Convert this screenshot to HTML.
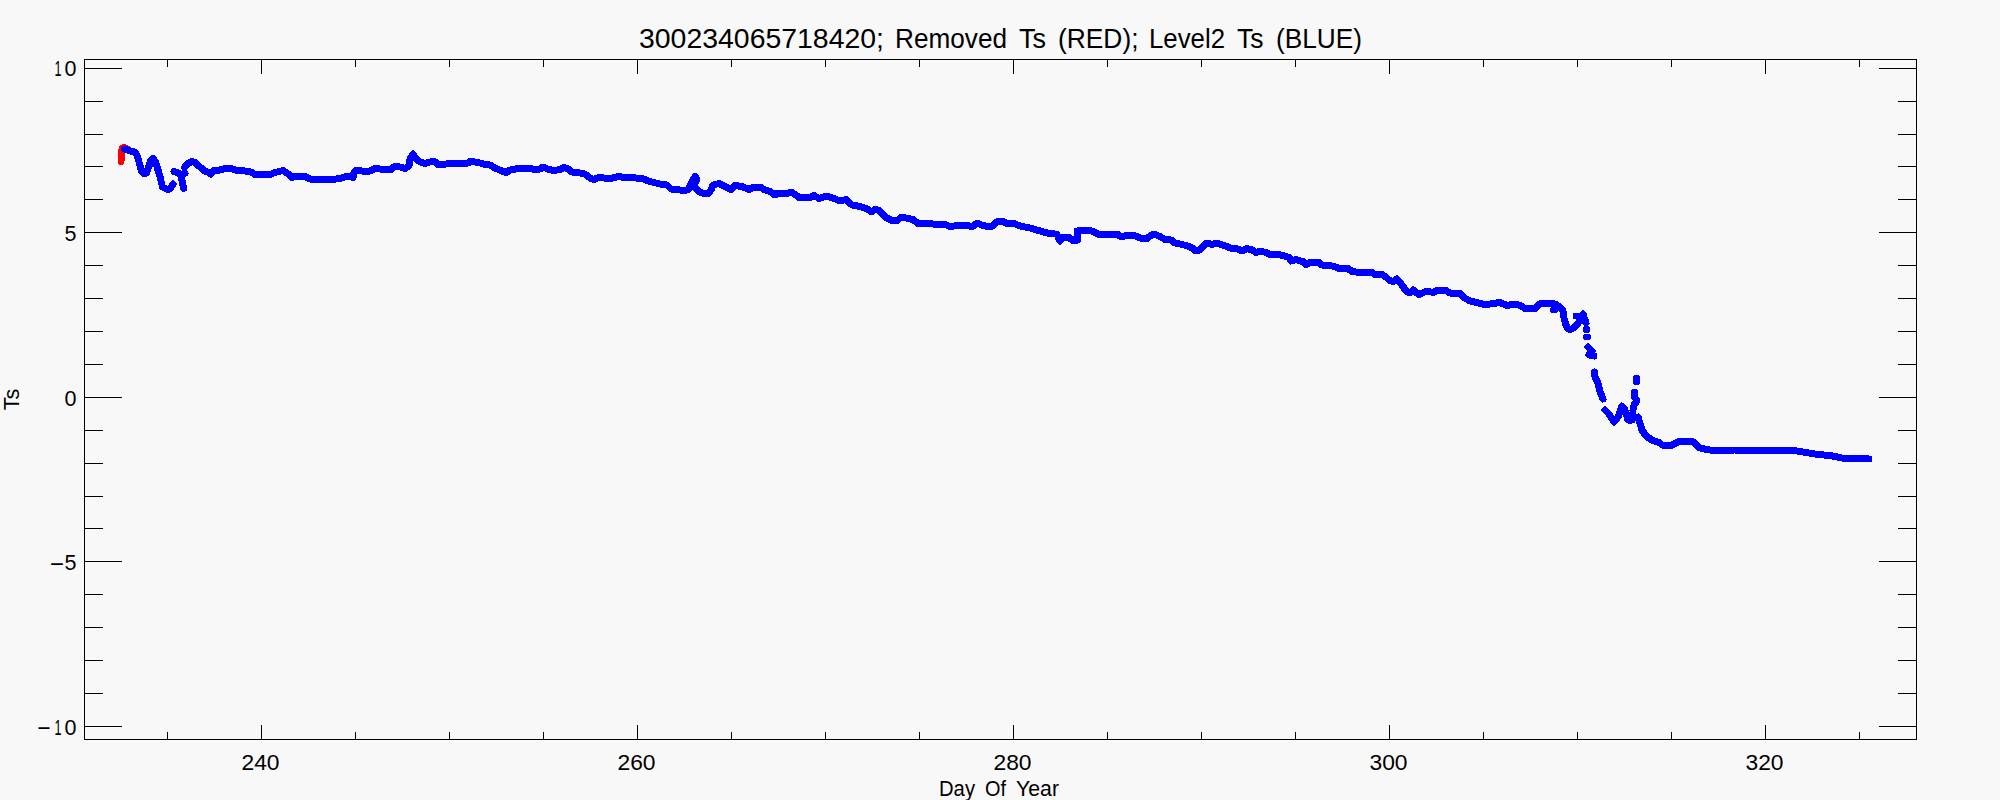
<!DOCTYPE html>
<html><head><meta charset="utf-8"><title>Ts plot</title>
<style>
html,body{margin:0;padding:0;background:#f8f8f8;}
body{width:2000px;height:800px;overflow:hidden;}
svg{display:block;}
text{font-family:"Liberation Sans",Arial,sans-serif;fill:#000;}
</style></head><body>
<svg width="2000" height="800" viewBox="0 0 2000 800">
<rect x="0" y="0" width="2000" height="800" fill="#f8f8f8"/>
<g fill="#000" shape-rendering="crispEdges"><rect x="84" y="59" width="1833" height="1"/><rect x="84" y="739" width="1833" height="1"/><rect x="84" y="59" width="1" height="681"/><rect x="1916" y="59" width="1" height="681"/><rect x="84" y="68" width="38" height="1"/><rect x="1879" y="68" width="38" height="1"/><rect x="84" y="101" width="19" height="1"/><rect x="1898" y="101" width="19" height="1"/><rect x="84" y="134" width="19" height="1"/><rect x="1898" y="134" width="19" height="1"/><rect x="84" y="166" width="19" height="1"/><rect x="1898" y="166" width="19" height="1"/><rect x="84" y="199" width="19" height="1"/><rect x="1898" y="199" width="19" height="1"/><rect x="84" y="232" width="38" height="1"/><rect x="1879" y="232" width="38" height="1"/><rect x="84" y="265" width="19" height="1"/><rect x="1898" y="265" width="19" height="1"/><rect x="84" y="298" width="19" height="1"/><rect x="1898" y="298" width="19" height="1"/><rect x="84" y="331" width="19" height="1"/><rect x="1898" y="331" width="19" height="1"/><rect x="84" y="364" width="19" height="1"/><rect x="1898" y="364" width="19" height="1"/><rect x="84" y="397" width="38" height="1"/><rect x="1879" y="397" width="38" height="1"/><rect x="84" y="430" width="19" height="1"/><rect x="1898" y="430" width="19" height="1"/><rect x="84" y="463" width="19" height="1"/><rect x="1898" y="463" width="19" height="1"/><rect x="84" y="496" width="19" height="1"/><rect x="1898" y="496" width="19" height="1"/><rect x="84" y="528" width="19" height="1"/><rect x="1898" y="528" width="19" height="1"/><rect x="84" y="561" width="38" height="1"/><rect x="1879" y="561" width="38" height="1"/><rect x="84" y="594" width="19" height="1"/><rect x="1898" y="594" width="19" height="1"/><rect x="84" y="627" width="19" height="1"/><rect x="1898" y="627" width="19" height="1"/><rect x="84" y="660" width="19" height="1"/><rect x="1898" y="660" width="19" height="1"/><rect x="84" y="693" width="19" height="1"/><rect x="1898" y="693" width="19" height="1"/><rect x="84" y="726" width="38" height="1"/><rect x="1879" y="726" width="38" height="1"/><rect x="167" y="732" width="1" height="8"/><rect x="167" y="59" width="1" height="8"/><rect x="261" y="725" width="1" height="15"/><rect x="261" y="59" width="1" height="15"/><rect x="355" y="732" width="1" height="8"/><rect x="355" y="59" width="1" height="8"/><rect x="449" y="732" width="1" height="8"/><rect x="449" y="59" width="1" height="8"/><rect x="543" y="732" width="1" height="8"/><rect x="543" y="59" width="1" height="8"/><rect x="637" y="725" width="1" height="15"/><rect x="637" y="59" width="1" height="15"/><rect x="731" y="732" width="1" height="8"/><rect x="731" y="59" width="1" height="8"/><rect x="825" y="732" width="1" height="8"/><rect x="825" y="59" width="1" height="8"/><rect x="919" y="732" width="1" height="8"/><rect x="919" y="59" width="1" height="8"/><rect x="1013" y="725" width="1" height="15"/><rect x="1013" y="59" width="1" height="15"/><rect x="1107" y="732" width="1" height="8"/><rect x="1107" y="59" width="1" height="8"/><rect x="1201" y="732" width="1" height="8"/><rect x="1201" y="59" width="1" height="8"/><rect x="1295" y="732" width="1" height="8"/><rect x="1295" y="59" width="1" height="8"/><rect x="1389" y="725" width="1" height="15"/><rect x="1389" y="59" width="1" height="15"/><rect x="1483" y="732" width="1" height="8"/><rect x="1483" y="59" width="1" height="8"/><rect x="1577" y="732" width="1" height="8"/><rect x="1577" y="59" width="1" height="8"/><rect x="1671" y="732" width="1" height="8"/><rect x="1671" y="59" width="1" height="8"/><rect x="1765" y="725" width="1" height="15"/><rect x="1765" y="59" width="1" height="15"/><rect x="1859" y="732" width="1" height="8"/><rect x="1859" y="59" width="1" height="8"/></g>
<g shape-rendering="crispEdges">
<g fill="none" stroke="#0000ff" stroke-width="7" stroke-linecap="round" stroke-linejoin="round">
<polyline points="124.5,149 130,150.8 134,151.8 137,155 138.5,160 140,166 142,172 144,174 146.5,173 149,166 151,160 153,158.5 156,163 158,170 160,176 161,181 162.5,187 166.5,189 170,189 173,184"/>
<polyline points="174,171.5 177.5,172.5 181,174.5 185,173"/>
<polyline points="181,175.5 182.3,182 183.6,188.5"/>
<polyline points="184.5,167.5 188,163.5 191.5,161.5 195,162.5 200,167 204,170.5 208,172.2 211,174 214,170 220,170 225,168.5 231,168.5 235,170 245,171 251,172 255,174.5 270,174.5 275,172.5 283,170.5 287,173 292,177.5 296,176 300,176 305,176.5 310,179 318,179 323,179.5 332,179.5 340,178.5 346,176.5 350,176 353,177.5 354,172 356,170 360,170.5 364,171.5 370,171 375,168.5 385,169.5 391,169.5 395,166 400,167 405,168.5 409,166 410,159 413,154 415,158 420,162 425,163.5 430,162 434,161 438,164.5 444,164.5 450,163 460,163.5 468,163 471,161 475,162 480,163 485,164.5 490,165 495,168 502,171 506.5,172.5 510,170 518,168.5 525,168 536,169.5 540,169 543,167 549,169.5 554,170.5 560,169.5 564,167.5 568,169 572,172 580,173 585,174 590,178 594,179.5 600,177 606,178.5 613,178 618,176.5 625,177.5 636,178 642,178.5 650,181.5 660,184 667,185 671,189 680,190 685,190.5 689,189 690,186 693,180 695,176.5 697,179 694,186 698,191 702,193 708,193.5 711,190 713,185 719,183.5 724,186 731,189.5 735,185.5 742,186.5 749,189.5 753,187.5 760,187 765,190 770,191.5 775,195 778,193 785,193.5 792,192.5 800,198 810,197.5 814,195.5 819,198.5 827,196 834,198.5 840,201 846,199.5 852,205 860,206.5 866,208.5 872,212 875,209 880,211 885,217 892,220.5 897,221 901,217 906,218 913,219.5 918,223.5 926,223 933,224 944,224 950,226.5 958,225.5 967,225 972,227 977,223 983,225.5 991,227 998,221 1002,221 1007,223.5 1014,223.5 1020,226 1030,228 1040,231 1047,233 1055,234 1057,234.5 1060,241 1063,237.5 1068,237 1074,241 1078,240 1077,231 1080,230.5 1092,231 1100,235 1106,234 1118,234.5 1121,237 1126,235.5 1136,236 1140,238 1147,238.5 1150,236 1154,234 1160,236.5 1165,239.5 1171,240 1175,243 1180,244 1188,246 1192,248 1196,251 1200,250 1205,244 1208,243 1212,244.5 1217,243 1222,245 1226,246 1230,248 1238,249 1242,251 1247,248.5 1252,250 1256,252.5 1260,251 1266,252.5 1270,254.5 1278,254.5 1285,256 1290,258 1291,261 1296,259.5 1304,262 1306,264.5 1310,262.5 1318,262 1322,265 1330,265.5 1336,267 1340,269 1348,268.5 1352,271.5 1360,272.5 1372,272.5 1376,275 1382,274.5 1386,277 1389,280 1393,281.5 1397,279 1402,285 1406,291 1410,293 1413,290 1419,294.5 1427,291 1433,292.5 1437,290.5 1440,290.5 1445,290 1450,293 1460,293 1463,297 1470,301 1477,302.5 1482,304 1490,304 1500,302.5 1507,305.5 1515,304 1520,305.5 1526,309 1535,308.5 1541,303 1547,303 1555,304 1560,307 1563,311 1564,318 1566,325 1568,329 1572,329 1576,326 1579,322 1583,314 1585,320 1586,323"/>
<polyline points="1588,347 1592,351 1589,355 1594,356"/>
<polyline points="1594.5,372 1595,377 1598,383 1599.5,390 1603,399"/>
<polyline points="1605,410 1609,414 1614,422 1618,417 1622,406 1625,410 1628,420 1632,420 1633,412"/>
<polyline points="1636.5,378 1636.5,382"/>
<polyline points="1634.5,392 1634.5,397 1637,401 1634,405 1633,410"/>
<polyline points="1638,417 1640,423 1642,430 1646,436 1652,440 1660,443 1662,445 1670,446 1679,441.5 1694,442 1699,447.5 1706,449.5 1717,451 1734,450 1770,450.5 1794,450.5 1806,452.5 1818,454.5 1830,455.5 1842,458 1854,458.5 1869,459"/>
</g>
<polyline points="1553.7,310 1554.3,310" fill="none" stroke="#0000ff" stroke-width="7" stroke-linecap="round"/>
<polyline points="1576.2,316 1576.8,316" fill="none" stroke="#0000ff" stroke-width="7" stroke-linecap="round"/>
<polyline points="1586.2,329.5 1586.8,329.5" fill="none" stroke="#0000ff" stroke-width="7" stroke-linecap="round"/>
<polyline points="1586.7,337 1587.3,337" fill="none" stroke="#0000ff" stroke-width="7" stroke-linecap="round"/>
<polyline points="121,161.5 121.3,156 121.6,150.5 122.5,147.8 124.5,147.5 127.5,149" fill="none" stroke="#ff0000" stroke-width="7" stroke-linecap="round" stroke-linejoin="round"/>
<polyline points="124.5,149 130,150.8 134,151.8" fill="none" stroke="#0000ff" stroke-width="7" stroke-linecap="round" stroke-linejoin="round"/>
</g>
<text y="76.0" font-size="21.5"><tspan x="54.5" textLength="7" lengthAdjust="spacingAndGlyphs">1</tspan><tspan x="64.5">0</tspan></text>
<text y="241.0" font-size="21.5" x="64.5">5</text>
<text y="406.0" font-size="21.5" x="64.5">0</text>
<text y="570.0" font-size="21.5"><tspan x="49" textLength="16" lengthAdjust="spacingAndGlyphs">-</tspan><tspan x="64.5">5</tspan></text>
<text y="735.0" font-size="21.5"><tspan x="36.5" dy="-1" textLength="15" lengthAdjust="spacingAndGlyphs">-</tspan><tspan x="54.5" dy="1" textLength="7" lengthAdjust="spacingAndGlyphs">1</tspan><tspan x="64.5">0</tspan></text>
<g font-size="21.5" text-anchor="middle">
<text x="260.5" y="769.5" textLength="38" lengthAdjust="spacingAndGlyphs">240</text>
<text x="636.5" y="769.5" textLength="38" lengthAdjust="spacingAndGlyphs">260</text>
<text x="1012.5" y="769.5" textLength="38" lengthAdjust="spacingAndGlyphs">280</text>
<text x="1388.5" y="769.5" textLength="38" lengthAdjust="spacingAndGlyphs">300</text>
<text x="1764.5" y="769.5" textLength="38" lengthAdjust="spacingAndGlyphs">320</text>
</g>
<text y="48" font-size="27" xml:space="preserve"><tspan x="639" textLength="245" lengthAdjust="spacingAndGlyphs">300234065718420;</tspan> <tspan x="895" textLength="112" lengthAdjust="spacingAndGlyphs">Removed</tspan> <tspan x="1019" textLength="27" lengthAdjust="spacingAndGlyphs">Ts</tspan> <tspan x="1058" textLength="80.5" lengthAdjust="spacingAndGlyphs">(RED);</tspan> <tspan x="1149" textLength="76" lengthAdjust="spacingAndGlyphs">Level2</tspan> <tspan x="1237" textLength="26.5" lengthAdjust="spacingAndGlyphs">Ts</tspan> <tspan x="1276" textLength="86" lengthAdjust="spacingAndGlyphs">(BLUE)</tspan></text>
<text y="796" font-size="21.5" xml:space="preserve"><tspan x="939" textLength="36" lengthAdjust="spacingAndGlyphs">Day</tspan> <tspan x="985" textLength="21" lengthAdjust="spacingAndGlyphs">Of</tspan> <tspan x="1016" textLength="43" lengthAdjust="spacingAndGlyphs">Year</tspan></text>
<text transform="translate(19,399.5) rotate(-90)" x="0" y="0" font-size="21.5" text-anchor="middle">Ts</text>
</svg>
</body></html>
